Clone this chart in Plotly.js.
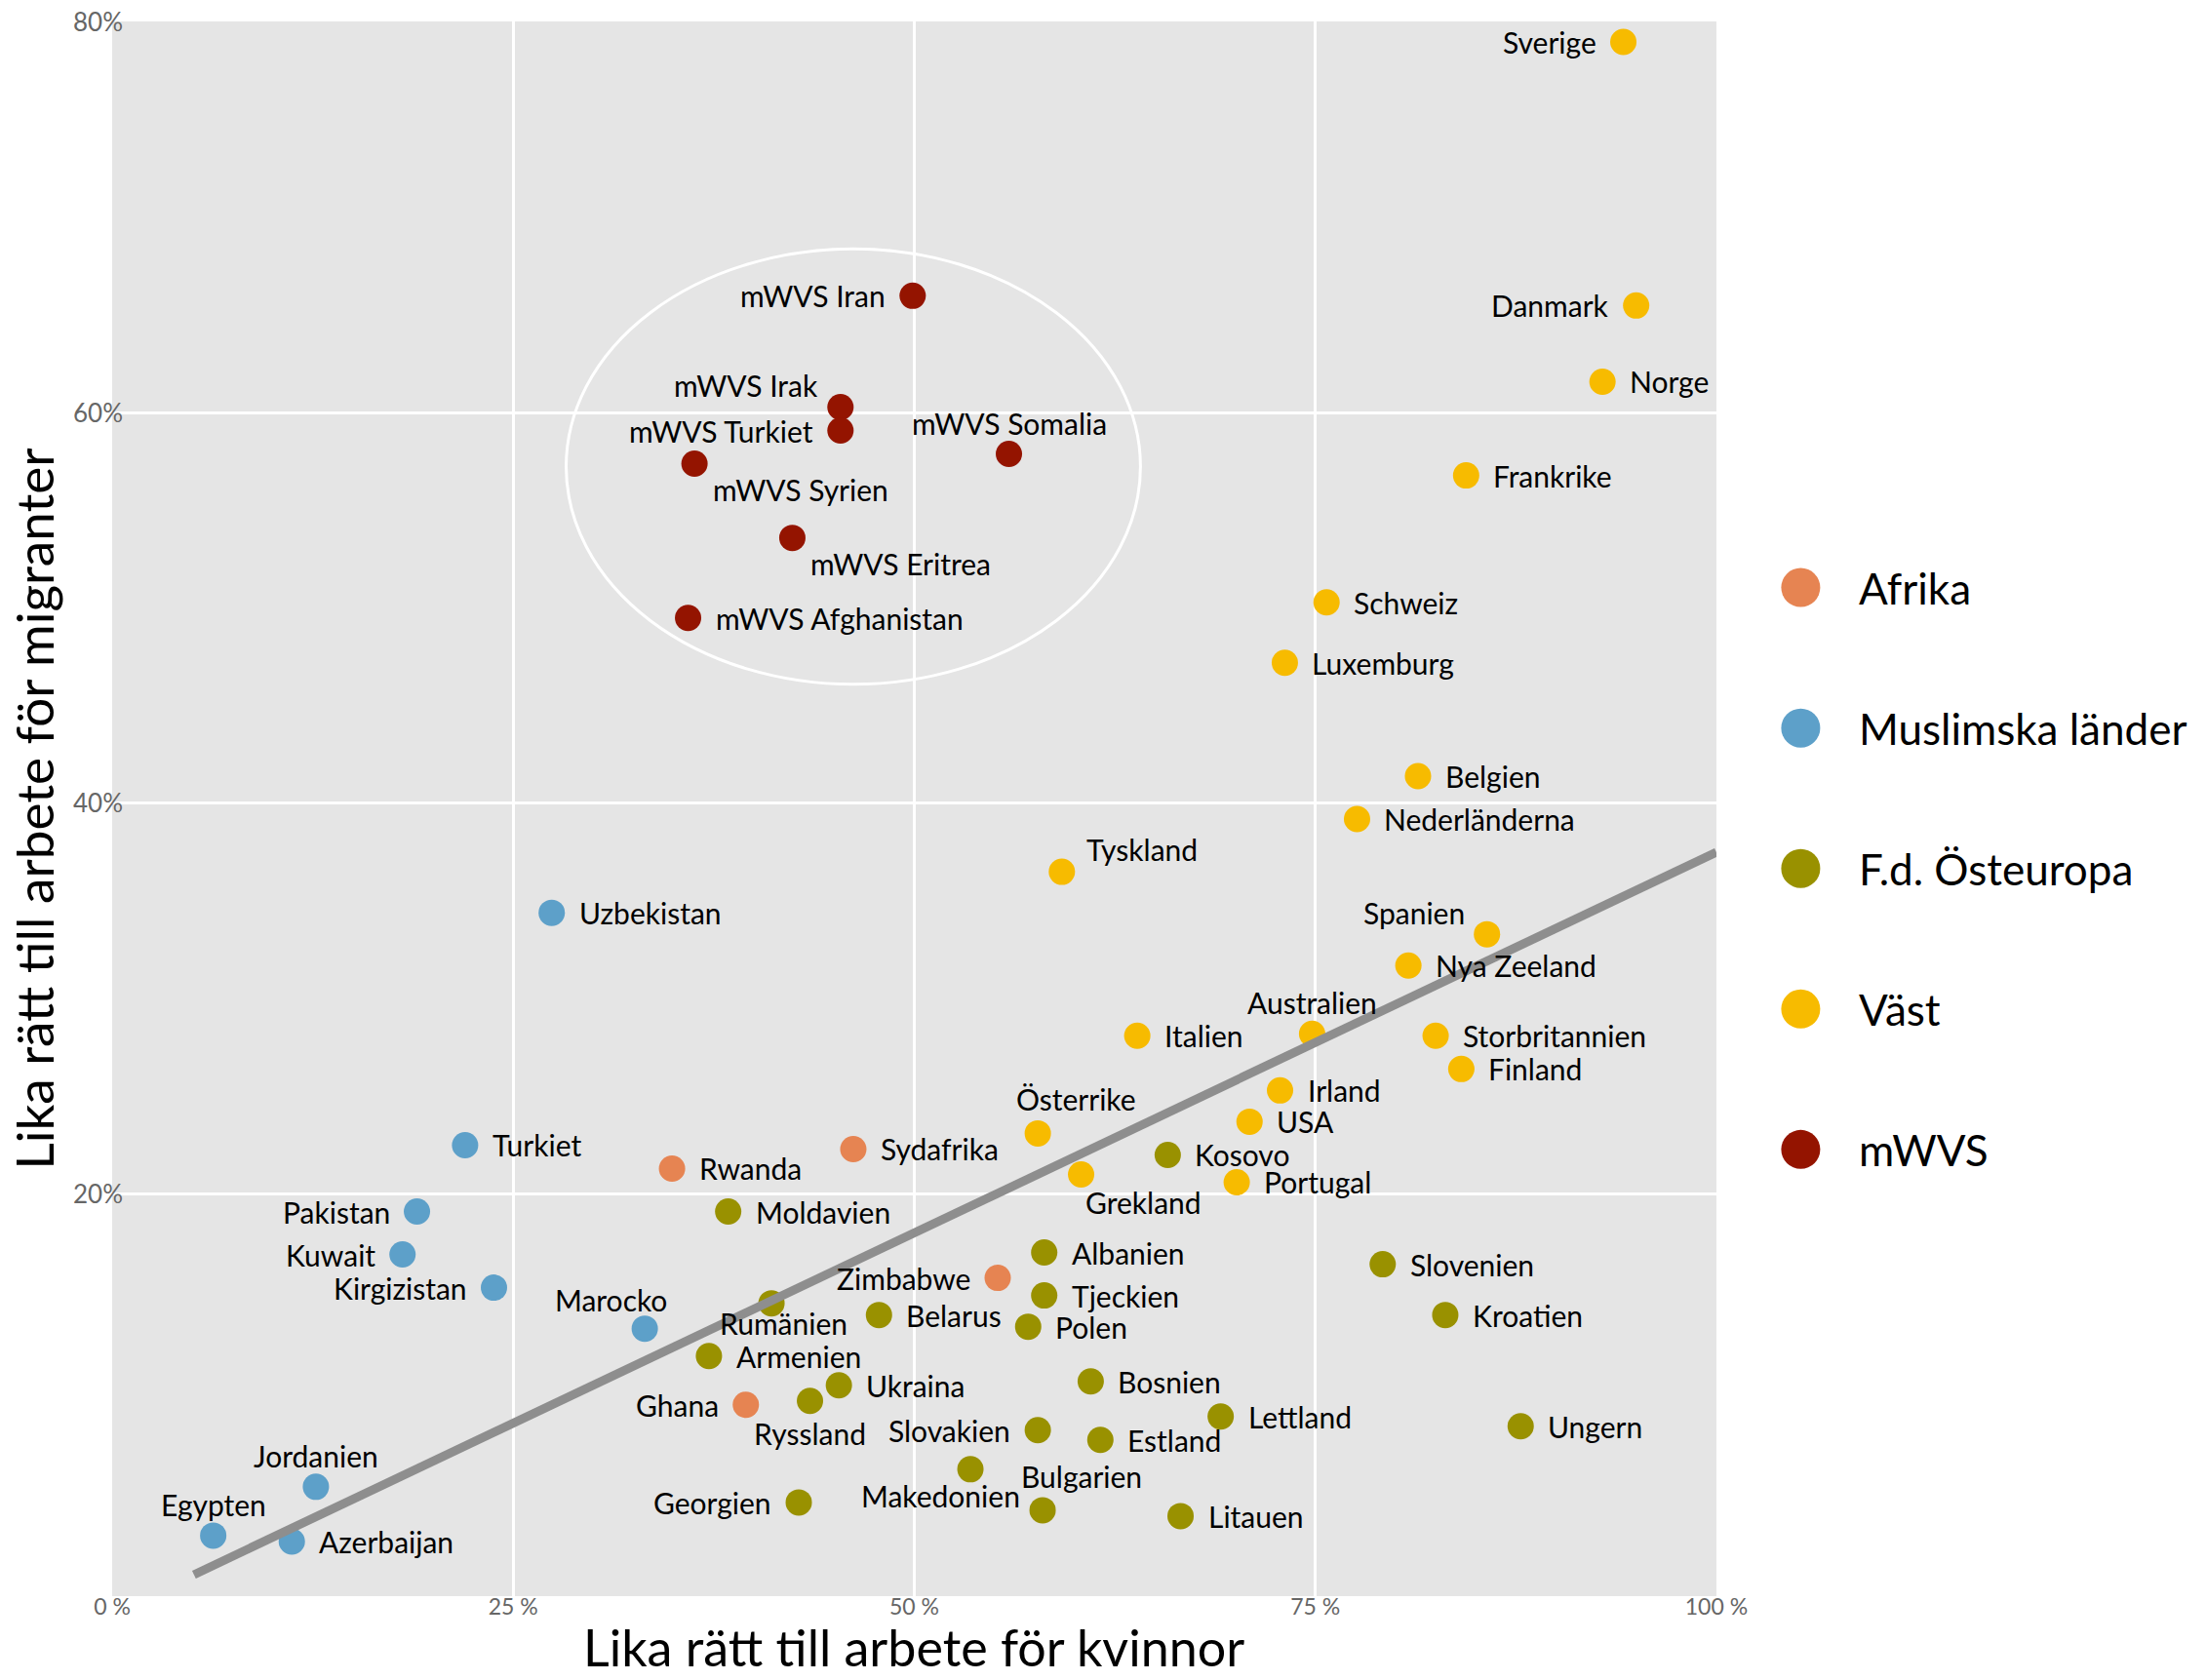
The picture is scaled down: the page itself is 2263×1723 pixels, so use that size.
<!DOCTYPE html>
<html>
<head>
<meta charset="utf-8">
<script src="https://cdn.plot.ly/plotly-3.0.1.min.js"></script>
<style>
  html, body { margin: 0; padding: 0; background: #ffffff; }
  #chart { width: 2263px; height: 1723px; }
</style>
</head>
<body>
<div id="chart"></div>
<script>
// ---------- categories ----------
const categories = ['Afrika', 'Muslimska länder', 'F.d. Östeuropa', 'Väst', 'mWVS'];
const categoryColors = ['#E68452', '#5DA0C9', '#999100', '#F7BB00', '#941400'];

// ---------- Afrika ----------
const afrikaNames = ['Rwanda', 'Sydafrika', 'Zimbabwe', 'Ghana'];
const afrikaX = [34.9, 46.2, 55.2, 39.5];
const afrikaY = [21.3, 22.3, 15.7, 9.2];
const afrikaLabelPos = ['r', 'r', 'l', 'l'];

// ---------- Muslimska länder ----------
const muslimNames = ['Uzbekistan', 'Turkiet', 'Pakistan', 'Kuwait', 'Kirgizistan', 'Marocko', 'Jordanien', 'Egypten', 'Azerbaijan'];
const muslimX = [27.4, 22.0, 19.0, 18.1, 23.8, 33.2, 12.7, 6.3, 11.2];
const muslimY = [34.4, 22.5, 19.1, 16.9, 15.2, 13.1, 5.0, 2.5, 2.2];
const muslimLabelPos = ['r', 'r', 'l', 'l', 'l', 'tL', 't', 't', 'r'];

// ---------- F.d. Östeuropa ----------
const ostNames = ['Kosovo', 'Moldavien', 'Albanien', 'Slovenien', 'Tjeckien', 'Rumänien', 'Belarus', 'Kroatien', 'Polen', 'Armenien', 'Ukraina', 'Bosnien', 'Ryssland', 'Lettland', 'Ungern', 'Slovakien', 'Estland', 'Makedonien', 'Bulgarien', 'Georgien', 'Litauen'];
const ostX = [65.8, 38.4, 58.1, 79.2, 58.1, 41.1, 47.8, 83.1, 57.1, 37.2, 45.3, 61.0, 43.5, 69.1, 87.8, 57.7, 61.6, 53.5, 58.0, 42.8, 66.6];
const ostY = [22.0, 19.1, 17.0, 16.4, 14.8, 14.4, 13.8, 13.8, 13.2, 11.7, 10.2, 10.4, 9.4, 8.6, 8.1, 7.9, 7.4, 5.9, 3.8, 4.2, 3.5];
const ostLabelPos = ['r', 'r', 'r', 'r', 'r', 'bs', 'r', 'r', 'r', 'r', 'r', 'r', 'b', 'r', 'r', 'l', 'r', 'bL', 'tR', 'l', 'r'];

// ---------- Väst ----------
const vastNames = ['Sverige', 'Danmark', 'Norge', 'Frankrike', 'Schweiz', 'Luxemburg', 'Belgien', 'Nederländerna', 'Tyskland', 'Spanien', 'Nya Zeeland', 'Australien', 'Italien', 'Storbritannien', 'Irland', 'Finland', 'USA', 'Österrike', 'Grekland', 'Portugal'];
const vastX = [94.2, 95.0, 92.9, 84.4, 75.7, 73.1, 81.4, 77.6, 59.2, 85.7, 80.8, 74.8, 63.9, 82.5, 72.8, 84.1, 70.9, 57.7, 60.4, 70.1];
const vastY = [79.0, 65.5, 61.6, 56.8, 50.3, 47.2, 41.4, 39.2, 36.5, 33.3, 31.7, 28.2, 28.1, 28.1, 25.3, 26.4, 23.7, 23.1, 21.0, 20.6];
const vastLabelPos = ['l', 'l', 'r', 'r', 'r', 'r', 'r', 'r', 'tr', 'tl', 'r', 't', 'r', 'r', 'r', 'r', 'r', 'tR', 'bR', 'r'];

// ---------- mWVS ----------
const mwvsNames = ['mWVS Iran', 'mWVS Irak', 'mWVS Turkiet', 'mWVS Somalia', 'mWVS Syrien', 'mWVS Eritrea', 'mWVS Afghanistan'];
const mwvsX = [49.9, 45.4, 45.4, 55.9, 36.3, 42.4, 35.9];
const mwvsY = [66.0, 60.3, 59.1, 57.9, 57.4, 53.6, 49.5];
const mwvsLabelPos = ['l', 'tl', 'l', 't', 'br', 'br', 'r'];

// ---------- trend line (end points) ----------
const trendX = [5.1, 100];
const trendY = [0.5, 37.5];

// ---------- highlighted mWVS region (ellipse extent) ----------
const ellipseX = [28.3, 64.1];
const ellipseY = [46.1, 68.4];

// ---------- ticks and titles ----------
const xTickVals = [0, 25, 50, 75, 100];
const xTickText = ['0 %', '25 %', '50 %', '75 %', '100 %'];
const yTickVals = [20, 40, 60, 80];
const yTickText = ['20%', '40%', '60%', '80%'];
const xTitle = 'Lika rätt till arbete för kvinnor';
const yTitle = 'Lika rätt till arbete för migranter';

const FONT = 'Lato, "Open Sans", sans-serif';

// label placement styles (pixel offsets from the point)
const LABEL_STYLE = {
  r:  {xanchor: 'left',   xshift: 27,  yshift: 0},
  l:  {xanchor: 'right',  xshift: -27, yshift: 0},
  t:  {xanchor: 'center', xshift: 0,   yshift: 32},
  b:  {xanchor: 'center', xshift: 0,   yshift: -33},
  bs: {xanchor: 'center', xshift: 12,  yshift: -20},
  bL: {xanchor: 'right',  xshift: 52,  yshift: -27},
  tl: {xanchor: 'right',  xshift: -22, yshift: 22},
  tr: {xanchor: 'left',   xshift: 24,  yshift: 23},
  tL: {xanchor: 'right',  xshift: 24,  yshift: 30},
  tR: {xanchor: 'left',   xshift: -23, yshift: 35},
  br: {xanchor: 'left',   xshift: 18,  yshift: -26},
  bR: {xanchor: 'left',   xshift: 3,   yshift: -29}
};

const seriesList = [
  {names: afrikaNames, x: afrikaX, y: afrikaY, pos: afrikaLabelPos},
  {names: muslimNames, x: muslimX, y: muslimY, pos: muslimLabelPos},
  {names: ostNames, x: ostX, y: ostY, pos: ostLabelPos},
  {names: vastNames, x: vastX, y: vastY, pos: vastLabelPos},
  {names: mwvsNames, x: mwvsX, y: mwvsY, pos: mwvsLabelPos}
];

const traces = seriesList.map((s, i) => ({
  type: 'scatter',
  mode: 'markers',
  name: categories[i],
  x: s.x,
  y: s.y,
  marker: {size: 27, color: categoryColors[i], line: {width: 0}},
  showlegend: false,
  xaxis: 'x',
  yaxis: 'y'
}));

traces.push({
  type: 'scatter',
  mode: 'lines',
  x: trendX,
  y: trendY,
  line: {color: '#8E8E8E', width: 9},
  showlegend: false,
  xaxis: 'x',
  yaxis: 'y'
});

// custom legend drawn on its own small axis pair
traces.push({
  type: 'scatter',
  mode: 'markers',
  x: categories.map(() => 0.1),
  y: categories.map((c, i) => i),
  marker: {size: 40, color: categoryColors},
  showlegend: false,
  xaxis: 'x2',
  yaxis: 'y2'
});

const pointLabels = [];
seriesList.forEach(s => {
  s.names.forEach((name, j) => {
    const st = LABEL_STYLE[s.pos[j]];
    pointLabels.push({
      xref: 'x', yref: 'y',
      x: s.x[j], y: s.y[j],
      text: name,
      showarrow: false,
      xanchor: st.xanchor,
      yanchor: 'middle',
      xshift: st.xshift,
      yshift: st.yshift,
      borderpad: 0,
      font: {family: FONT, size: 30, color: '#000000'}
    });
  });
});

const legendAnnotations = categories.map((c, i) => ({
  xref: 'x2', yref: 'y2',
  x: 0.225, y: i,
  text: c,
  showarrow: false,
  xanchor: 'left',
  yanchor: 'middle',
  font: {family: FONT, size: 44, color: '#000000'}
}));

const xTitleAnnotation = {
  xref: 'x domain', yref: 'paper',
  x: 0.5, y: 0, yshift: -84,
  text: xTitle,
  showarrow: false,
  xanchor: 'center',
  yanchor: 'bottom',
  borderpad: 0,
  font: {family: FONT, size: 52, color: '#000000'}
};

const layout = {
  width: 2263,
  height: 1723,
  margin: {l: 115, r: 0, t: 22, b: 86},
  paper_bgcolor: '#ffffff',
  plot_bgcolor: 'rgba(0,0,0,0)',
  showlegend: false,
  hovermode: false,
  font: {family: FONT, color: '#000000'},
  xaxis: {
    domain: [0, 0.7658],
    range: [0, 100],
    tickvals: xTickVals,
    ticktext: xTickText,
    showgrid: true,
    gridcolor: '#ffffff',
    gridwidth: 3,
    zeroline: false,
    showline: false,
    ticks: '',
    ticklabelstandoff: -5,
    tickfont: {family: FONT, size: 23, color: '#666666'}
  },
  yaxis: {
    domain: [0, 1],
    range: [-0.6, 80.05],
    tickvals: yTickVals,
    ticktext: yTickText,
    showgrid: true,
    gridcolor: '#ffffff',
    gridwidth: 3,
    zeroline: false,
    showline: false,
    ticks: '',
    ticklabelstandoff: -12,
    tickfont: {family: FONT, size: 26, color: '#666666'},
    title: {text: yTitle, font: {family: FONT, size: 53, color: '#000000'}, standoff: 2}
  },
  xaxis2: {
    domain: [0.7845, 1],
    range: [0, 1],
    anchor: 'y2',
    visible: false,
    fixedrange: true
  },
  yaxis2: {
    domain: [0, 1],
    range: [7.18, -4.03],
    anchor: 'x2',
    visible: false,
    fixedrange: true
  },
  shapes: [
    {type: 'rect', xref: 'x domain', yref: 'y domain', x0: 0, x1: 1, y0: 0, y1: 1,
     fillcolor: '#E5E5E5', line: {width: 0}, layer: 'below'},
    {type: 'circle', xref: 'x', yref: 'y', x0: ellipseX[0], x1: ellipseX[1], y0: ellipseY[0], y1: ellipseY[1],
     line: {color: '#ffffff', width: 3}, fillcolor: 'rgba(0,0,0,0)', layer: 'below'}
  ],
  annotations: pointLabels.concat(legendAnnotations, [xTitleAnnotation])
};

Plotly.newPlot('chart', traces, layout, {displayModeBar: false, staticPlot: true});
</script>
</body>
</html>
